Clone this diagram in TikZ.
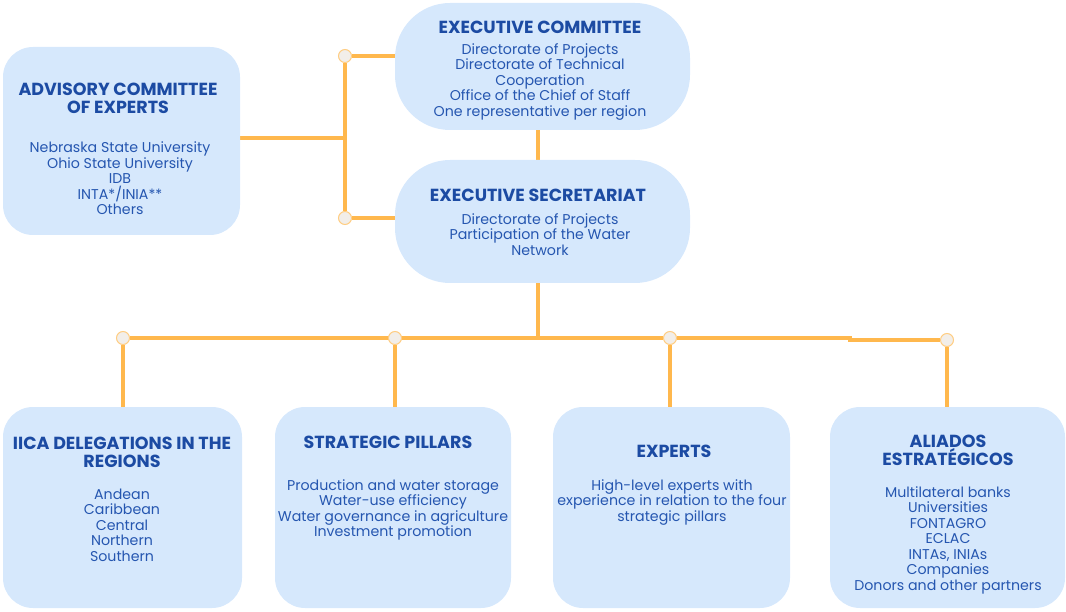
\documentclass[tikz,border=0pt]{standalone}
\usepackage{fontspec}
\setmainfont{Poppins}
\usetikzlibrary{positioning,backgrounds}

\definecolor{boxblue}{HTML}{D6E8FC}
\definecolor{inkblue}{HTML}{1C4BA3}
\definecolor{textblue}{HTML}{2556B0}
\definecolor{linkorange}{HTML}{FFB84D}
\definecolor{dotfill}{HTML}{F2EEE9}

\tikzset{
  box/.style={fill=boxblue, rounded corners=30pt, inner sep=0pt},
  ttl/.style={text=inkblue, font=\bfseries\fontsize{17.5}{18}\selectfont, align=center, inner sep=0pt},
  txt/.style={text=textblue, font=\fontsize{14.2}{15.5}\selectfont, align=center, inner sep=0pt},
  link/.style={draw=linkorange, line width=4.5pt},
  dot/.style={circle, draw=linkorange!70, fill=dotfill, line width=1pt, minimum size=13pt, inner sep=0pt},
}

\begin{document}
\begin{tikzpicture}[x=1pt,y=-1pt]
\useasboundingbox (0,0) rectangle (1066,612);

% boxes
\node[box, minimum width=237, minimum height=188] (adv) at (121.5,141) {};
\node[box, rounded corners=55pt, minimum width=295, minimum height=127] (exc) at (542.5,66.5) {};
\node[box, rounded corners=55pt, minimum width=295, minimum height=123] (sec) at (542.5,221.5) {};
\node[box, minimum width=239, minimum height=201] (iica) at (122.5,507.5) {};
\node[box, minimum width=236, minimum height=201] (pil) at (393,507.5) {};
\node[box, minimum width=237, minimum height=201] (exp) at (671.5,507.5) {};
\node[box, minimum width=235, minimum height=201] (ali) at (947.5,507.5) {};

% junctions
\node[dot] (dA) at (345,56) {};
\node[dot] (dB) at (345,218) {};
\node[dot] (d1) at (123,338) {};
\node[dot] (d2) at (395,338) {};
\node[dot] (d3) at (670,338) {};
\node[dot] (d4) at (947,340) {};
\coordinate (j) at (345,138);
\coordinate (t) at (538,338);
\coordinate (m) at (538,0);

\begin{scope}[on background layer]
\draw[link] (adv.east |- j) -- (j);
\draw[link] (dA) -- (dB);
\draw[link] (dA) -- (dA -| exc.west);
\draw[link] (dB) -- (dB -| sec.west);
\draw[link] (exc.south -| m) -- (sec.north -| m);
\draw[link] (sec.south -| t) -- (t);
\draw[link] (d1) -- (d3) -- (850,338) -- (850,340) -- (d4);
\draw[link] (d1) -- (iica.north -| d1);
\draw[link] (d2) -- (pil.north -| d2);
\draw[link] (d3) -- (exp.north -| d3);
\draw[link] (d4) -- (ali.north -| d4);
\end{scope}

% texts
\node[ttl] (advT) at (118,98) {ADVISORY COMMITTEE\\OF EXPERTS};
\node[txt] (advB) at (120,178.5) {Nebraska State University\\Ohio State University\\IDB\\INTA*/INIA**\\Others};
\node[ttl] (excT) at (540,27) {EXECUTIVE COMMITTEE};
\node[txt] (excB) at (540,81.5) {Directorate of Projects\\Directorate of Technical\\Cooperation\\Office of the Chief of Staff\\One representative per region};
\node[ttl] (secT) at (538,195) {EXECUTIVE SECRETARIAT};
\node[txt] (secB) at (540,234.5) {Directorate of Projects\\Participation of the Water\\Network};
\node[ttl] (iicaT) at (122,452) {IICA DELEGATIONS IN THE\\REGIONS};
\node[txt] (iicaB) at (122,525) {Andean\\Caribbean\\Central\\Northern\\Southern};
\node[ttl] (pilT) at (388,442) {STRATEGIC PILLARS};
\node[txt] (pilB) at (393,510) {Production and water storage\\Water-use efficiency\\Water governance in agriculture\\Investment promotion};
\node[ttl] (expT) at (674,451) {EXPERTS};
\node[txt] (expB) at (672,502.5) {High-level experts with\\experience in relation to the four\\strategic pillars};
\node[ttl] (aliT) at (948,450.5) {ALIADOS\\ESTRATÉGICOS};
\node[txt] (aliB) at (948,540) {Multilateral banks\\Universities\\FONTAGRO\\ECLAC\\INTAs, INIAs\\Companies\\Donors and other partners};
\end{tikzpicture}
\end{document}
